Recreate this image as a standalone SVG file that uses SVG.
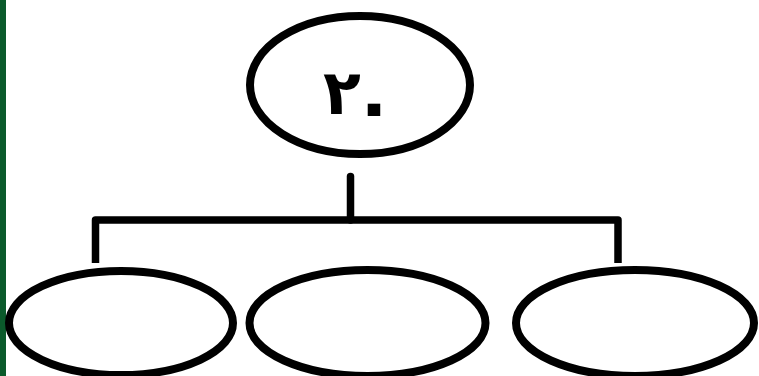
<svg xmlns="http://www.w3.org/2000/svg" width="759" height="376" viewBox="0 0 759 376">
<style>
.node{fill:#ffffff;stroke:#000000;stroke-width:8}
.conn{fill:none;stroke:#000000;stroke-width:7.5}
.lbl{font-family:"DejaVu Sans","Noto Sans",sans-serif;font-weight:bold;font-size:62px;fill:#000000}
</style>
<rect x="0" y="0" width="759" height="376" fill="#ffffff"/>
<rect x="0" y="0" width="6" height="376" fill="#0b5a2b"/>
<g id="connectors">
<path class="conn" d="M350.5,176.5 V220" stroke-linecap="round"/>
<path class="conn" d="M95.5,263 V220 H618 V263" stroke-linejoin="round"/>
</g>
<g id="root">
<ellipse class="node" cx="360" cy="85" rx="110" ry="69"/>
<text class="lbl" text-anchor="middle"><tspan x="342" y="114">٢</tspan><tspan x="374" y="130" font-size="72">٠</tspan></text>
</g>
<g id="child1">
<ellipse class="node" cx="121" cy="323" rx="112" ry="52"/>
</g>
<g id="child2">
<ellipse class="node" cx="367.5" cy="323" rx="118" ry="53"/>
</g>
<g id="child3">
<ellipse class="node" cx="635" cy="323" rx="119" ry="53"/>
</g>
</svg>
